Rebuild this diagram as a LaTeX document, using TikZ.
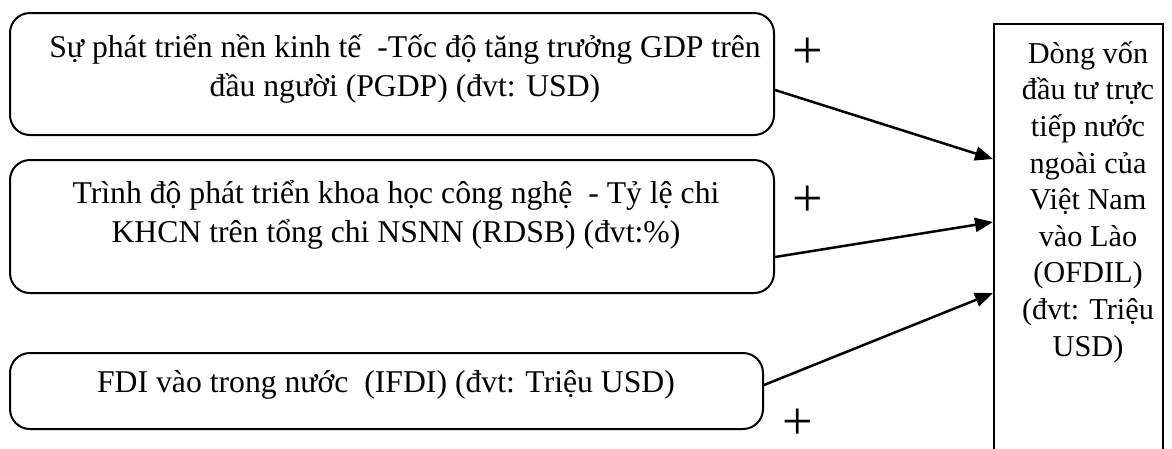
\documentclass[tikz,border=0pt]{standalone}
\usepackage{fontspec}
\setmainfont{Liberation Serif}
\usetikzlibrary{arrows.meta}

\begin{document}
\begin{tikzpicture}[x=1pt,y=-1pt,
  factor/.style={draw=black, line width=2pt, rounded corners=20pt, inner sep=0pt},
  target/.style={draw=black, line width=2pt, inner sep=0pt, anchor=north west},
  label/.style={align=center, inner sep=0pt, font=\fontsize{31.7}{39.5}\selectfont},
  tlabel/.style={align=center, inner sep=0pt, font=\fontsize{30.3}{36.6}\selectfont},
  sign/.style={inner sep=0pt, font=\fontsize{54}{54}\selectfont},
  arr/.style={line width=2.5pt, -{Triangle[length=18pt,width=14pt]}}]
\useasboundingbox (0,0) rectangle (1172,448);

% factor boxes
\node[factor, minimum width=764pt, minimum height=122pt] (f1) at (392,74) {};
\node[factor, minimum width=764pt, minimum height=133pt] (f2) at (392,226.5) {};
\node[factor, minimum width=753pt, minimum height=76pt] (f3) at (386.5,391) {};

\node[label] (l1) at (405,69) {Sự phát triển nền kinh tế \ -Tốc độ tăng trưởng GDP trên\\đầu người (PGDP) (đvt: USD)};
\node[label] (l2) at (396,215) {Trình độ phát triển khoa học công nghệ \ - Tỷ lệ chi\\KHCN trên tổng chi NSNN (RDSB) (đvt:\%)};
\node[label] (l3) at (386,385) {FDI vào trong nước \ (IFDI) (đvt: Triệu USD)};

% dependent variable (box runs past the lower edge)
\node[target, minimum width=169pt, minimum height=460pt] (t) at (993,23) {};
\node[tlabel] (tl) at (1088,202) {Dòng vốn\\đầu tư trực\\tiếp nước\\ngoài của\\Việt Nam\\vào Lào\\(OFDIL)\\(đvt: Triệu\\USD)};

% effects
\draw[arr] (f1.east |- 0,90) -- (t.west |- 0,159);
\draw[arr] (f2.east |- 0,257) -- (t.west |- 0,222);
\draw[arr] (f3.east |- 0,385) -- (t.west |- 0,293);

\node[sign] (s1) at (808,53) {+};
\node[sign] (s2) at (808,201) {+};
\node[sign] (s3) at (798,424) {+};
\end{tikzpicture}
\end{document}
